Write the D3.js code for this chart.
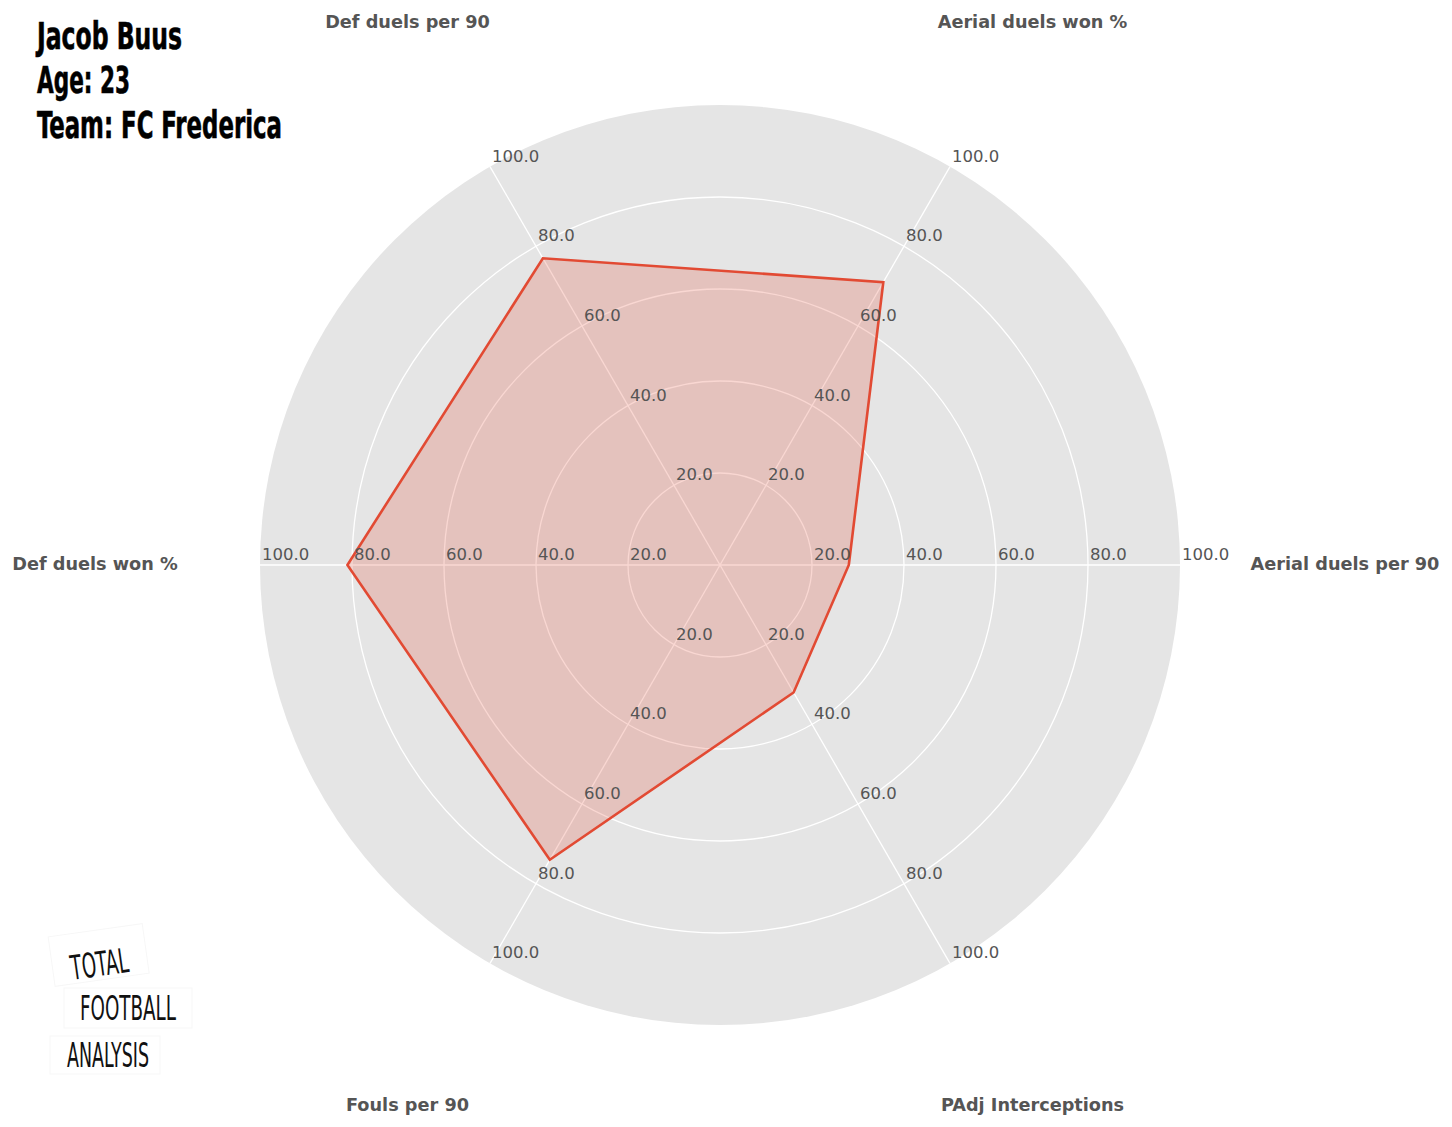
<!DOCTYPE html>
<html><head><meta charset="utf-8">
<script src="https://cdn.jsdelivr.net/npm/d3@7"></script>
<style>html,body{margin:0;padding:0;background:#fff;}svg{display:block;}</style>
</head><body>
<svg id="chart" width="1452" height="1127"></svg>
<script>
const categories = ["Aerial duels per 90","Aerial duels won %","Def duels per 90","Def duels won %","Fouls per 90","PAdj Interceptions"];
const values = [28, 71, 77, 81, 74, 32];
const ticks = [20, 40, 60, 80, 100];
const tickLabels = ["20.0","40.0","60.0","80.0","100.0"];
const titleLines = ["Jacob Buus","Age: 23","Team: FC Frederica"];

const svg = d3.select("#chart");
const cx = 720, cy = 565, R = 460;
const r = d3.scaleLinear().domain([0,100]).range([0,R]);
const ang = d3.scaleLinear().domain([0, categories.length]).range([0, 2*Math.PI]);
const px = (i,v)=> cx + r(v)*Math.cos(ang(i));
const py = (i,v)=> cy - r(v)*Math.sin(ang(i));

// background disc
svg.append("circle").attr("cx",cx).attr("cy",cy).attr("r",r(100)).attr("fill","#e5e5e5");
// rings
svg.selectAll(".ring").data(ticks.slice(0,-1)).enter().append("circle")
  .attr("cx",cx).attr("cy",cy).attr("r",d=>r(d)).attr("fill","none").attr("stroke","#fff").attr("stroke-width",1.3);
// spokes
svg.selectAll(".spoke").data(categories).enter().append("line")
  .attr("x1",cx).attr("y1",cy).attr("x2",(d,i)=>px(i,100)).attr("y2",(d,i)=>py(i,100))
  .attr("stroke","#fff").attr("stroke-width",1.3);

// polygon
const line = d3.line().x(d=>d[0]).y(d=>d[1]).curve(d3.curveLinearClosed);
const pts = values.map((v,i)=>[px(i,v),py(i,v)]);
svg.append("path").attr("d",line(pts)).attr("fill","rgba(226,74,51,0.22)").attr("stroke","#E24A33").attr("stroke-width",2.6).attr("stroke-linejoin","miter");

// tick labels
categories.forEach((c,i)=>{
  svg.selectAll(null).data(ticks).enter().append("text")
    .attr("x",d=>px(i,d)+2).attr("y",d=>py(i,d)-5)
    .attr("font-family","DejaVu Sans").attr("font-size",16.5).attr("fill","#555")
    .text((d,k)=>tickLabels[k]);
});

// category labels
svg.selectAll(".cat").data(categories).enter().append("text")
  .attr("x",(d,i)=>cx + 625*Math.cos(ang(i))).attr("y",(d,i)=>cy - 625*Math.sin(ang(i)) - 1.5)
  .attr("text-anchor","middle").attr("dominant-baseline","central")
  .attr("font-family","DejaVu Sans").attr("font-weight","bold").attr("font-size",17.7).attr("fill","#555")
  .text(d=>d);

// title
const tW = [145, 93, 245];
const tY = [49, 93, 138];
svg.selectAll(".title").data(titleLines).enter().append("text")
  .attr("x",37).attr("y",(d,i)=>tY[i])
  .attr("font-family","Liberation Sans Narrow, DejaVu Sans Condensed").attr("font-weight","bold").attr("font-size",37)
  .attr("textLength",(d,i)=>tW[i]).attr("lengthAdjust","spacingAndGlyphs")
  .attr("stroke","#000").attr("stroke-width",0.6)
  .attr("fill","#000").text(d=>d);

// logo
const logo = svg.append("g");
const logoWords = [
  {t:"TOTAL", x:70, y:976, w:58, rot:-8, box:[52,930,95,50]},
  {t:"FOOTBALL", x:80, y:1020, w:96, rot:0, box:[64,988,128,40]},
  {t:"ANALYSIS", x:67, y:1067, w:82, rot:0, box:[50,1036,110,38]}
];
logoWords.forEach(w=>{
  const g = logo.append("g").attr("transform",`rotate(${w.rot},${w.x+w.w/2},${w.y-15})`);
  g.append("rect").attr("x",w.box[0]).attr("y",w.box[1]).attr("width",w.box[2]).attr("height",w.box[3])
    .attr("fill","#fff").attr("stroke","#f7f7f7").attr("stroke-width",1);
  g.append("text").attr("x",w.x).attr("y",w.y)
    .attr("font-family","DejaVu Sans Condensed").attr("font-weight","300").attr("font-size",34)
    .attr("textLength",w.w).attr("lengthAdjust","spacingAndGlyphs")
    .attr("fill","#111").text(w.t);
});
</script>
</body></html>
